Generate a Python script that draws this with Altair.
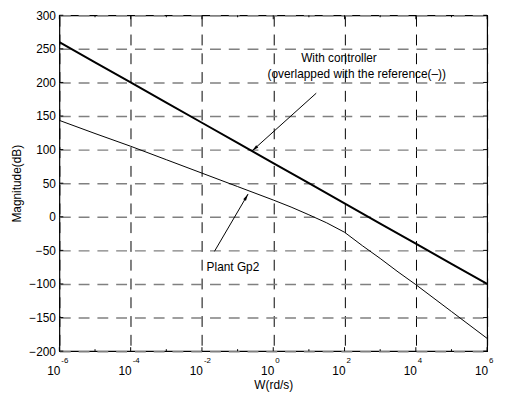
import altair as alt
import pandas as pd

# ---- data ----
plant_w = [1e-6, 1e-5, 1e-4, 1e-3, 1e-2, 1e-1, 1e0, 3.162, 1e1, 31.62, 1e2,
           316.2, 1e3, 3162.0, 1e4, 1e5, 1e6]
plant_db = [143.5, 124, 105, 85, 65, 45, 25, 14.5, 3, -9, -23,
            -43, -62, -82, -101, -141, -181]

ctrl_w = [1e-6, 1e-5, 1e-4, 1e-3, 1e-2, 1e-1, 1e0, 1e1, 1e2, 1e3, 1e4, 1e5, 1e6]
ctrl_db = [260, 230, 200, 170, 140, 110, 80, 50, 20, -10, -40, -70, -100]

y_ticks = [-200, -150, -100, -50, 0, 50, 100, 150, 200, 250, 300]
x_major = [1e-6, 1e-4, 1e-2, 1e0, 1e2, 1e4, 1e6]
x_exponents = ["-6", "-4", "-2", "0", "2", "4", "6"]
x_minor = [1e-5, 1e-3, 1e-1, 1e1, 1e3, 1e5]

# annotations (data coordinates)
note_text = ["With controller", "(overlapped with the reference(\u2013))"]
note_w = [69.8, 220.3]
note_db = [237, 213]
plant_label = "Plant Gp2"
plant_label_w = 0.0135
plant_label_db = -75

arrow_w1 = [16.07, 0.0224]
arrow_db1 = [184, -51.5]
arrow_w2 = [0.254, 0.197]
arrow_db2 = [98, 34]
arrow_angle = [228, 30]

W, H = 433, 340
FONT = "Liberation Sans"

xscale = alt.Scale(type="log", domain=[1e-6, 1e6], nice=False)
yscale = alt.Scale(domain=[-200, 300], nice=False, zero=False)

x_axis = alt.Axis(
    values=x_major, labels=False, ticks=False, domain=False, grid=True,
    gridColor="black", gridDash=[11, 8], gridWidth=1,
    title="W(rd/s)", titleFont=FONT, titleFontSize=12, titleFontWeight="normal",
    titleColor="black", titleY=34, titleBaseline="middle",
)
y_axis = alt.Axis(
    values=y_ticks, ticks=False, domain=False, grid=True,
    gridColor="#808080", gridDash=[11, 8], gridWidth=1.5,
    labelFont=FONT, labelFontSize=12, labelColor="black", labelPadding=4,
    title="Magnitude(dB)", titleFont=FONT, titleFontSize=12, titleFontWeight="normal",
    titleColor="black", titleX=-43, titleY=H / 2, titleAngle=-90,
    titleAlign="center", titleBaseline="middle",
)


def xe(field="w"):
    return alt.X(f"{field}:Q", scale=xscale, axis=x_axis)


def ye(field="db"):
    return alt.Y(f"{field}:Q", scale=yscale, axis=y_axis)


df_plant = pd.DataFrame({"w": plant_w, "db": plant_db})
df_ctrl = pd.DataFrame({"w": ctrl_w, "db": ctrl_db})
df_yt = pd.DataFrame({"db": y_ticks})
df_xmaj = pd.DataFrame({"w": x_major, "e": x_exponents})
df_xmin = pd.DataFrame({"w": x_minor})
df_notes = pd.DataFrame({"w": note_w, "db": note_db, "t": note_text})
df_plabel = pd.DataFrame({"w": [plant_label_w], "db": [plant_label_db], "t": [plant_label]})
df_arrows = pd.DataFrame({"w": arrow_w1, "db": arrow_db1, "w2": arrow_w2,
                          "db2": arrow_db2, "ang": arrow_angle})

ctrl_line = alt.Chart(df_ctrl).mark_line(color="black", strokeWidth=2).encode(
    x=xe(), y=ye())
plant_line = alt.Chart(df_plant).mark_line(color="black", strokeWidth=1).encode(
    x=xe(), y=ye())

# inside ticks
yt_left = alt.Chart(df_yt).mark_rule(color="black").encode(
    y=ye(), x=alt.value(0), x2=alt.value(4))
yt_right = alt.Chart(df_yt).mark_rule(color="black").encode(
    y=ye(), x=alt.value(W - 4), x2=alt.value(W))
xt_bot = alt.Chart(df_xmaj).mark_rule(color="black").encode(
    x=xe(), y=alt.value(H), y2=alt.value(H - 4))
xt_top = alt.Chart(df_xmaj).mark_rule(color="black").encode(
    x=xe(), y=alt.value(0), y2=alt.value(4))
xm_bot = alt.Chart(df_xmin).mark_rule(color="black").encode(
    x=xe(), y=alt.value(H), y2=alt.value(H - 2))
xm_top = alt.Chart(df_xmin).mark_rule(color="black").encode(
    x=xe(), y=alt.value(0), y2=alt.value(2))

# x tick labels: 10 with superscript exponent
lab10 = alt.Chart(df_xmaj).mark_text(
    align="right", baseline="alphabetic", dx=1, dy=24, font=FONT, fontSize=12,
    color="black").encode(x=xe(), y=alt.value(H), text=alt.value("10"))
labexp = alt.Chart(df_xmaj).mark_text(
    align="left", baseline="alphabetic", dx=2, dy=11.5, font=FONT, fontSize=8,
    color="black").encode(x=xe(), y=alt.value(H), text="e:N")

# annotations
notes = alt.Chart(df_notes).mark_text(
    align="center", baseline="middle", font=FONT, fontSize=12, color="black").encode(
    x=xe(), y=ye(), text="t:N")
plabel = alt.Chart(df_plabel).mark_text(
    align="left", baseline="middle", font=FONT, fontSize=12, color="black").encode(
    x=xe(), y=ye(), text="t:N")
arrow_lines = alt.Chart(df_arrows).mark_rule(color="black", strokeWidth=1).encode(
    x=xe(), y=ye(), x2="w2:Q", y2="db2:Q")
arrow_heads = alt.Chart(df_arrows).mark_point(
    shape="M0,0L0.45,2L-0.45,2Z", filled=True, color="black", opacity=1, size=50).encode(
    x=xe("w2"), y=ye("db2"),
    angle=alt.Angle("ang:Q", scale=None))

chart = alt.layer(
    ctrl_line, plant_line, yt_left, yt_right, xt_bot, xt_top, xm_bot, xm_top,
    lab10, labexp, notes, plabel, arrow_lines, arrow_heads,
).properties(
    width=W, height=H,
    autosize=alt.AutoSizeParams(type="none"),
    padding={"left": 52, "top": 5, "right": 10, "bottom": 40},
).configure_view(stroke="black", strokeWidth=1.2)

chart.save("out.html", embed_options={"renderer": "svg", "actions": False})
